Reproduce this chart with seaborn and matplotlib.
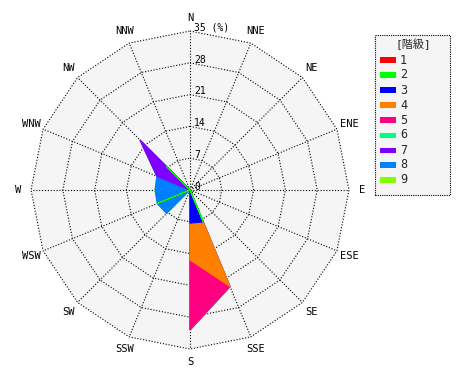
import numpy as np
import matplotlib
matplotlib.use("Agg")
import matplotlib.pyplot as plt
import seaborn as sns
from matplotlib.patches import Rectangle

# ---- data ----
directions = ["N", "NNE", "NE", "ENE", "E", "ESE", "SE", "SSE",
              "S", "SSW", "SW", "WSW", "W", "WNW", "NW", "NNW"]
levels = ["1", "2", "3", "4", "5", "6", "7", "8", "9"]
lv1 = [0, 0, 0, 0, 0, 0, 0, 0, 0, 0, 0, 0, 0, 0, 0, 0]
lv2 = [0, 0, 0, 0, 0, 0, 0, 7.6, 0, 0, 0, 7.8, 0, 0, 7.3, 0]
lv3 = [0, 0, 0, 0, 0, 0, 0, 0, 7.3, 0, 0, 0, 0, 0, 0, 0]
lv4 = [0, 0, 0, 0, 0, 0, 0, 15.4, 8.1, 0, 0, 0, 0, 0, 0, 0]
lv5 = [0, 0, 0, 0, 0, 0, 0, 0, 15.4, 0, 0, 0, 0, 0, 0, 0]
lv6 = [0, 0, 0, 0, 0, 0, 0, 0, 0, 0, 0, 0, 0, 0, 0, 0]
lv7 = [0, 0, 0, 0, 0, 0, 0, 0, 0, 0, 0, 0, 0, 7.9, 8.3, 0]
lv8 = [0, 0, 0, 0, 0, 0, 0, 0, 0, 0, 7.3, 0, 7.7, 0, 0, 0]
lv9 = [0, 0, 0, 0, 0, 0, 0, 0, 0, 0, 0, 0, 0, 0, 0, 0]
ring_ticks = [0, 7, 14, 21, 28, 35]
colors = ["#ff0000", "#00ff00", "#0000ff", "#ff8000", "#ff0080",
          "#00ff80", "#8000ff", "#0080ff", "#80ff00"]

sns.set_style("white")
plt.rcParams["font.family"] = ["DejaVu Sans Mono", "Noto Sans CJK JP"]
palette = sns.color_palette(colors)

W, H = 470, 380
fig = plt.figure(figsize=(4.7, 3.8), dpi=100)
fig.patch.set_facecolor("white")
ax = fig.add_axes([0, 0, 1, 1])
scale = 159 / 35.0  # px per %
cx, cy = 190, 190
ax.set_xlim(-cx / scale, (W - cx) / scale)
ax.set_ylim(-(H - cy) / scale, cy / scale)
ax.axis("off")

theta = np.deg2rad(np.arange(len(directions)) * 22.5)
sx, sy = np.sin(theta), np.cos(theta)
rmax = ring_ticks[-1]

# background
ax.fill(rmax * sx, rmax * sy, color="#f5f5f5", zorder=0, lw=0)

# grid
dot = (0, (1, 1.6))
for r in ring_ticks[1:]:
    ax.plot(np.append(r * sx, r * sx[0]), np.append(r * sy, r * sy[0]),
            color="black", lw=0.8, ls=dot, zorder=1)
for i in range(len(directions)):
    ax.plot([0, rmax * sx[i]], [0, rmax * sy[i]], color="black", lw=0.8,
            ls=dot, zorder=1)

# stacked polygons, painted from the highest class down
data = np.array([lv1, lv2, lv3, lv4, lv5, lv6, lv7, lv8, lv9])
cum = np.cumsum(data, axis=0)
for k in range(len(levels) - 1, -1, -1):
    c = palette[k]
    ax.fill(cum[k] * sx, cum[k] * sy, facecolor=c, edgecolor=c, lw=0.8,
            zorder=2)

# ring labels
for r in ring_ticks:
    txt = f"{r} (%)" if r == rmax else str(r)
    ax.text(0.9, r - 0.4, txt, ha="left", va="bottom", fontsize=7,
            color="black", zorder=3)

# direction labels
rl = 172 / scale
for i, d in enumerate(directions):
    ax.text(rl * sx[i], rl * sy[i], d, ha="center", va="center",
            fontsize=7.5, color="black")

# legend (manual box)
def fx(px):
    return px / W

def fy(py):
    return 1 - py / H

fig.patches.append(Rectangle((fx(375), fy(195)), 75 / W, 160 / H,
                             transform=fig.transFigure, facecolor="#f5f5f5",
                             edgecolor="black", lw=0.8, ls=(0, (1, 1))))
fig.text(fx(413), fy(44), "[階級]", ha="center", va="center", fontsize=8)
for i, lab in enumerate(levels):
    y = 60 + 15 * i
    fig.patches.append(Rectangle((fx(380), fy(y + 2.5)), 16 / W, 5 / H,
                                 transform=fig.transFigure,
                                 facecolor=palette[i], edgecolor="none"))
    fig.text(fx(400), fy(y), lab, ha="left", va="center", fontsize=8.5)

fig.savefig("out.png", dpi=100)
